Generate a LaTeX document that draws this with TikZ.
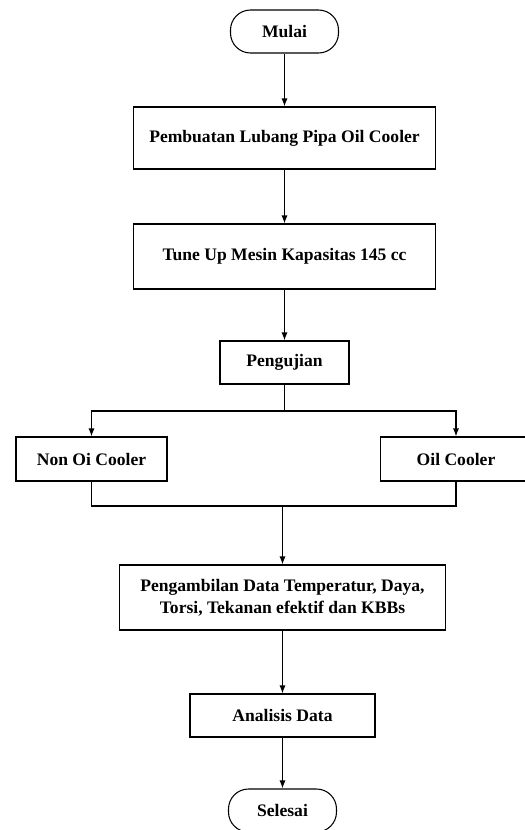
\documentclass[tikz,border=0pt]{standalone}
\usepackage{fontspec}
\setmainfont{Liberation Serif}
\usetikzlibrary{arrows.meta,positioning}

\begin{document}
\begin{tikzpicture}[x=0.03cm, y=-0.03cm,
    box/.style={draw, line width=0.9pt, inner sep=0pt, align=center,
      font=\fontsize{15}{18.5}\selectfont\bfseries},
    terminal/.style={box, rounded corners=0.6cm, minimum width=3.24cm, minimum height=1.29cm},
    arr/.style={line width=0.9pt, -{Latex[length=2.4mm,width=1.8mm]}},
    garis/.style={line width=0.9pt}]
  \useasboundingbox (0,0) rectangle (524,830);

  \node[terminal] (mulai) at (284.5,31.5) {Mulai};
  \node[box, minimum width=9.06cm, minimum height=1.86cm] (pembuatan) at (284.5,138) {Pembuatan Lubang Pipa Oil Cooler};
  \node[box, minimum width=9.06cm, minimum height=1.95cm] (tuneup) at (284.5,256.5) {Tune Up Mesin Kapasitas 145 cc};
  \node[box, minimum width=3.87cm, minimum height=1.29cm] (uji) at (284.5,362.5) {Pengujian};

  \node[box, minimum width=4.53cm, minimum height=1.32cm] (nonoil) at (91.5,459) {Non Oi Cooler};
  \node[box, minimum width=4.53cm, minimum height=1.32cm] (oil) at (456,459) {Oil Cooler};

  \node[box, minimum width=9.78cm, minimum height=1.95cm] (ambil) at (282.5,597.5) {Pengambilan Data Temperatur, Daya,\\Torsi, Tekanan efektif dan KBBs};
  \node[box, minimum width=5.55cm, minimum height=1.29cm] (analisis) at (282.5,715.5) {Analisis Data};
  \node[terminal] (selesai) at (282.5,810.5) {Selesai};

  \coordinate (cabang) at (284.5,411);
  \coordinate (gabung) at (282.5,506);

  \draw[arr] (mulai) -- (pembuatan);
  \draw[arr] (pembuatan) -- (tuneup);
  \draw[arr] (tuneup) -- (uji);
  \draw[garis] (uji) -- (cabang);
  \draw[arr] (cabang) -| (nonoil);
  \draw[arr] (cabang) -| (oil);
  \draw[garis] (nonoil) |- (gabung) -| (oil);
  \draw[arr] (gabung) -- (ambil);
  \draw[arr] (ambil) -- (analisis);
  \draw[arr] (analisis) -- (selesai);
\end{tikzpicture}
\end{document}
